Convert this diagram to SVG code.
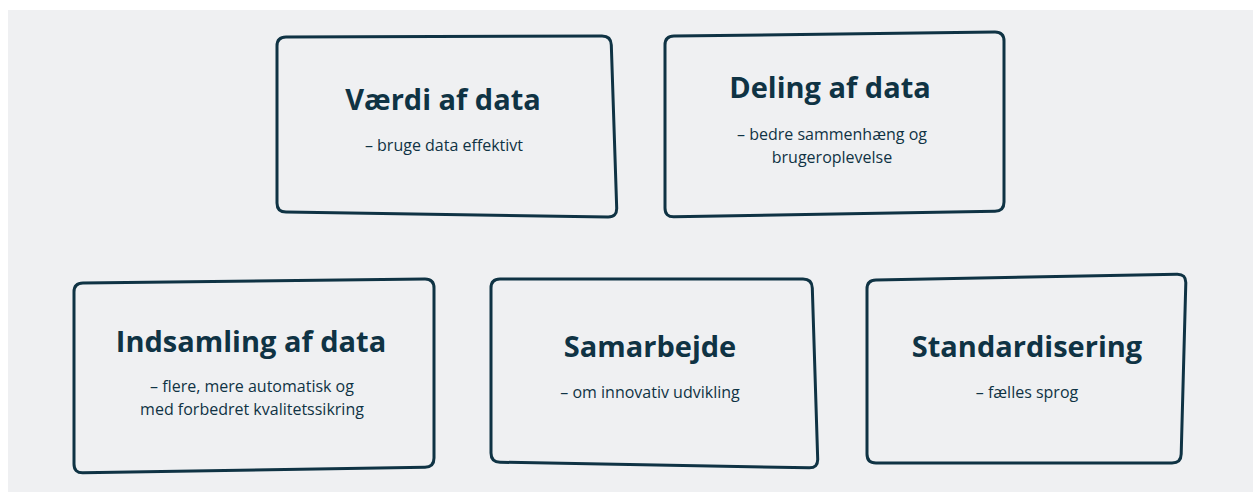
<svg xmlns="http://www.w3.org/2000/svg" width="1253" height="492" viewBox="0 0 1253 492">
<style>
.box{fill:none;stroke:#0f3344;stroke-width:3;stroke-linejoin:round}
.t{font-family:"Open Sans","Noto Sans","Liberation Sans",sans-serif;font-weight:700;font-size:29px;fill:#0f3344;text-anchor:middle}
.s{font-family:"Open Sans","Noto Sans","Liberation Sans",sans-serif;font-size:16px;fill:#0f3344;text-anchor:middle}
</style>
<rect width="1253" height="492" fill="#ffffff"/>
<rect x="8" y="10" width="1245" height="482" fill="#eff0f2"/>
<g id="node-vaerdi">
<path class="box" d="M286,37 L602,36 Q611,36 611.3,45 L616.7,208 Q617,217 608,216.9 L286,212.1 Q277,212 277,203 L277,46 Q277,37 286,37 Z"/>
<text class="t" x="443" y="110">Værdi af data</text>
<text class="s" x="444" y="151">– bruge data effektivt</text>
</g>
<g id="node-deling">
<path class="box" d="M674,36 L995,32 Q1004,32 1004,41 L1004,202 Q1004,211 995,211.2 L674,216.8 Q665,217 665,208 L665,45 Q665,36 674,36 Z"/>
<text class="t" x="830" y="98">Deling af data</text>
<text class="s" x="832" y="140">– bedre sammenhæng og</text>
<text class="s" x="832" y="163">brugeroplevelse</text>
</g>
<g id="node-indsamling">
<path class="box" d="M83,283 L425,279 Q434,279 434,288 L434,458 Q434,467 425,467.2 L83,472.8 Q74,473 74,464 L74,292 Q74,283 83,283 Z"/>
<text class="t" x="251" y="352">Indsamling af data</text>
<text class="s" x="252" y="392">– flere, mere automatisk og</text>
<text class="s" x="252" y="415">med forbedret kvalitetssikring</text>
</g>
<g id="node-samarbejde">
<path class="box" d="M500,279 L803,279 Q812,279 812.3,288 L817.7,459 Q818,468 809,467.8 L500,462.2 Q491,462 491,453 L491,288 Q491,279 500,279 Z"/>
<text class="t" x="650" y="357">Samarbejde</text>
<text class="s" x="650" y="398">– om innovativ udvikling</text>
</g>
<g id="node-standardisering">
<path class="box" d="M876,280 L1177,274.2 Q1186,274 1185.8,283 L1181.2,454 Q1181,463 1172,463 L876,463 Q867,463 867,454 L867,289 Q867,280 876,280 Z"/>
<text class="t" x="1027" y="357">Standardisering</text>
<text class="s" x="1027" y="398">– fælles sprog</text>
</g>
<g id="connectors"></g>
</svg>
